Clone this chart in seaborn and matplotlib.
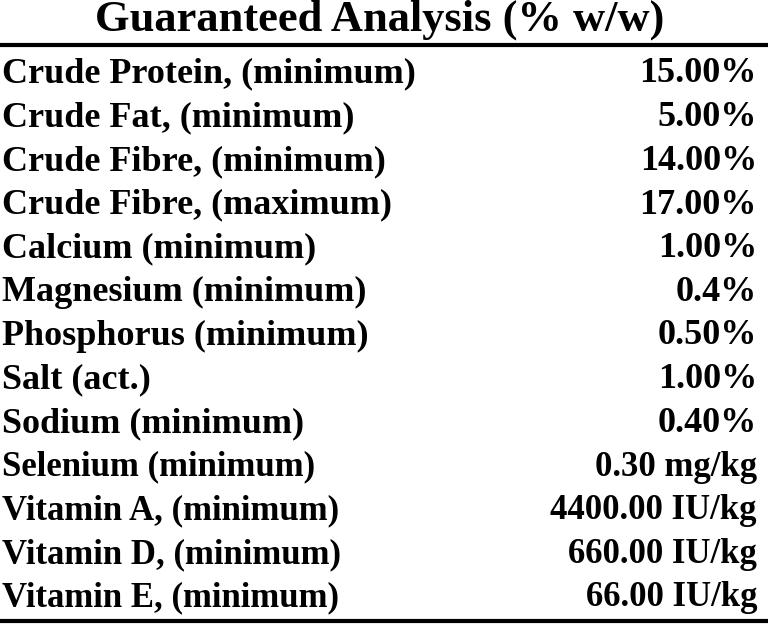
import matplotlib
matplotlib.use("Agg")
import matplotlib.pyplot as plt
import seaborn as sns

title = "Guaranteed Analysis (% w/w)"
nutrients = ["Crude Protein, (minimum)", "Crude Fat, (minimum)", "Crude Fibre, (minimum)",
             "Crude Fibre, (maximum)", "Calcium (minimum)", "Magnesium (minimum)",
             "Phosphorus (minimum)", "Salt (act.)", "Sodium (minimum)", "Selenium (minimum)",
             "Vitamin A, (minimum)", "Vitamin D, (minimum)", "Vitamin E, (minimum)"]
amounts = ["15.00%", "5.00%", "14.00%", "17.00%", "1.00%", "0.4%", "0.50%", "1.00%",
           "0.40%", "0.30 mg/kg", "4400.00 IU/kg", "660.00 IU/kg", "66.00 IU/kg"]

sns.set_theme(style="white")
plt.rcParams['font.family'] = ['Liberation Serif', 'DejaVu Serif']

fig = plt.figure(figsize=(7.68, 6.25), dpi=100)
ax = fig.add_axes([0, 0, 1, 1])
ax.set_xlim(0, 768)
ax.set_ylim(625, 0)
ax.axis("off")

ax.text(380, 20, title, ha="center", va="center", fontsize=32, fontweight="bold", color="black")
ax.plot([0, 768], [45, 45], color="black", lw=3)
n = len(nutrients)
for i, (lab, val) in enumerate(zip(nutrients, amounts)):
    y = 74 + i * (598 - 74) / (n - 1)
    fs = 26 if i < 9 else 25
    ax.text(2, y, lab, ha="left", va="center", fontsize=fs, fontweight="bold", color="black")
    ax.text(757, y, val, ha="right", va="center", fontsize=fs, fontweight="bold", color="black")
ax.plot([0, 768], [621, 621], color="black", lw=3)

fig.savefig("out.png", dpi=100)
